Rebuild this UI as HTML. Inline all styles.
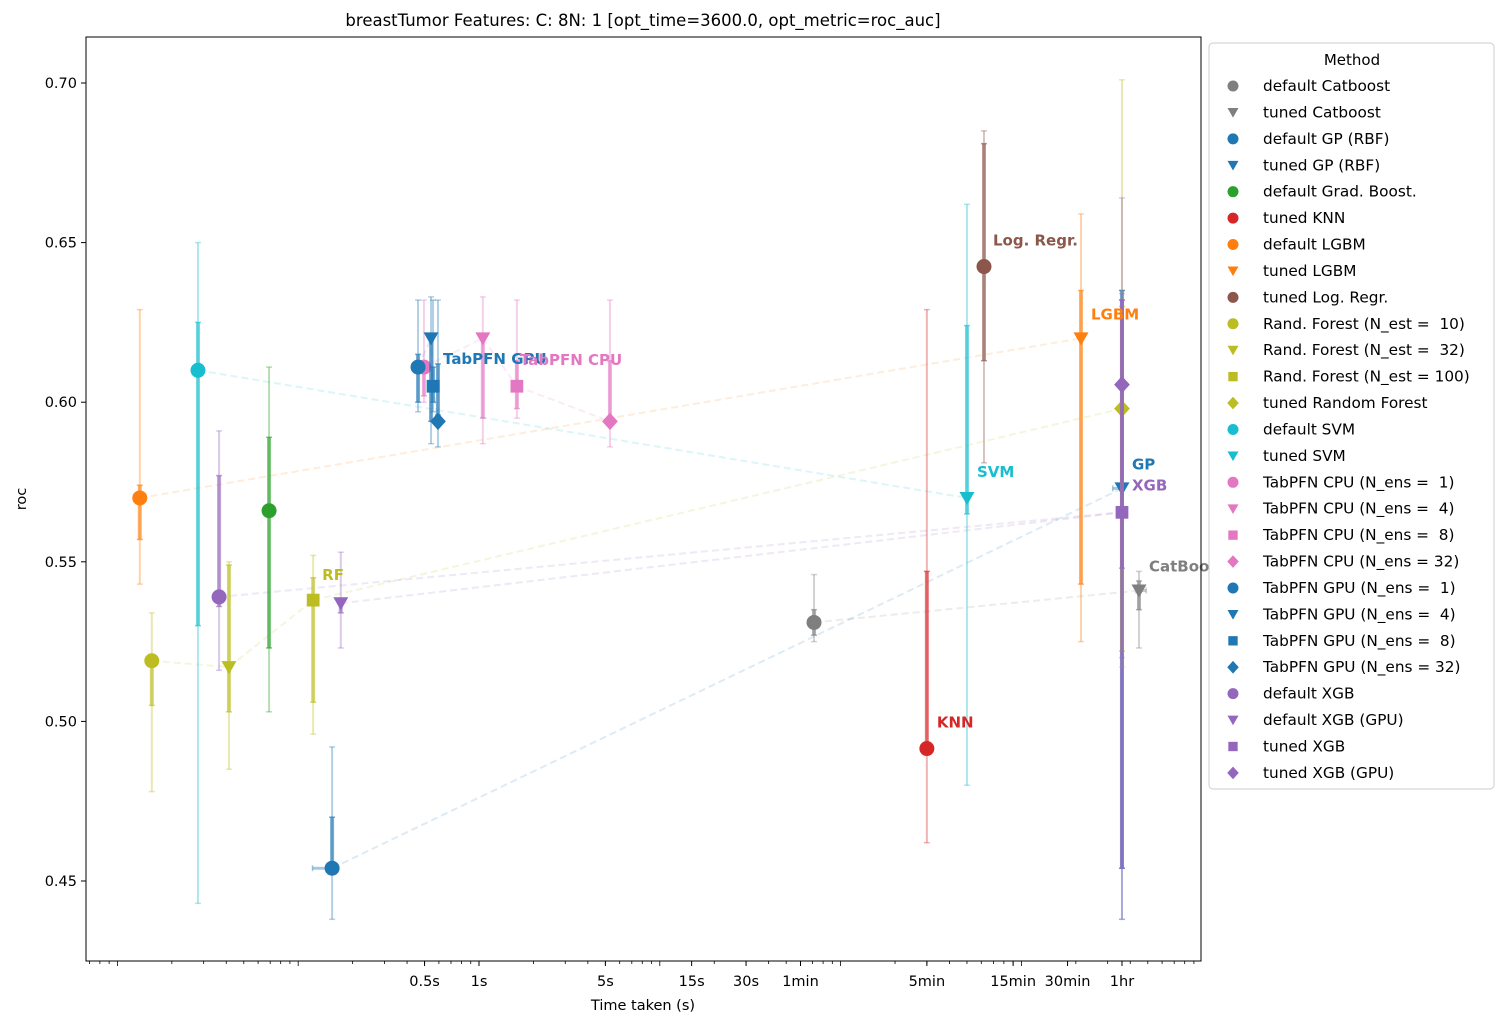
<!DOCTYPE html>
<html><head><meta charset="utf-8"><style>
body{margin:0;background:#fff;font-family:"Liberation Sans","DejaVu Sans",sans-serif}
svg text{font-family:"DejaVu Sans","Liberation Sans",sans-serif}
</style></head><body>
<svg id="c" width="1505" height="1027" xmlns="http://www.w3.org/2000/svg"></svg>
<script>
const methods=["default Catboost","tuned Catboost","default GP (RBF)","tuned GP (RBF)","default Grad. Boost.","tuned KNN","default LGBM","tuned LGBM","tuned Log. Regr.","Rand. Forest (N_est =  10)","Rand. Forest (N_est =  32)","Rand. Forest (N_est = 100)","tuned Random Forest","default SVM","tuned SVM","TabPFN CPU (N_ens =  1)","TabPFN CPU (N_ens =  4)","TabPFN CPU (N_ens =  8)","TabPFN CPU (N_ens = 32)","TabPFN GPU (N_ens =  1)","TabPFN GPU (N_ens =  4)","TabPFN GPU (N_ens =  8)","TabPFN GPU (N_ens = 32)","default XGB","default XGB (GPU)","tuned XGB","tuned XGB (GPU)"];
const times=[71.3,4470,0.154,3600,0.069,300,0.0133,2136,621,0.0155,0.0414,0.121,3600,0.0279,500,0.496,1.05,1.62,5.3,0.46,0.543,0.557,0.593,0.0365,0.172,3600,3600];
const timeLo=[71.3,4300,0.12,3200,0.069,300,0.0133,2136,621,0.0155,0.0414,0.121,3600,0.0279,500,0.496,1.05,1.62,5.3,0.46,0.543,0.557,0.593,0.0365,0.172,3600,3600];
const timeHi=[71.3,4900,0.154,3700,0.069,300,0.0133,2136,621,0.0155,0.0414,0.121,3600,0.0279,500,0.496,1.05,1.62,5.3,0.46,0.543,0.557,0.593,0.0365,0.172,3600,3600];
const means=[0.531,0.541,0.454,0.573,0.566,0.4915,0.570,0.620,0.6425,0.519,0.517,0.538,0.598,0.610,0.570,0.611,0.620,0.605,0.594,0.611,0.620,0.605,0.594,0.539,0.537,0.5655,0.6055];
const outerLo=[0.525,0.523,0.438,0.438,0.503,0.462,0.543,0.525,0.581,0.478,0.485,0.496,0.517,0.443,0.480,0.600,0.587,0.595,0.586,0.597,0.587,0.597,0.586,0.516,0.523,0.438,0.520];
const outerHi=[0.546,0.547,0.492,0.635,0.611,0.629,0.629,0.659,0.685,0.534,0.550,0.552,0.701,0.650,0.662,0.632,0.633,0.632,0.632,0.632,0.633,0.632,0.632,0.591,0.553,0.634,0.664];
const innerLo=[0.527,0.535,0.454,0.454,0.523,0.491,0.557,0.543,0.613,0.505,0.503,0.506,0.522,0.530,0.565,0.602,0.595,0.598,0.594,0.600,0.594,0.600,0.596,0.536,0.534,0.454,0.548];
const innerHi=[0.535,0.544,0.470,0.635,0.589,0.547,0.574,0.635,0.681,0.519,0.549,0.545,0.630,0.625,0.624,0.612,0.620,0.613,0.613,0.615,0.620,0.611,0.612,0.577,0.537,0.632,0.632];
const colors=["#7f7f7f","#7f7f7f","#1f77b4","#1f77b4","#2ca02c","#d62728","#ff7f0e","#ff7f0e","#8c564b","#bcbd22","#bcbd22","#bcbd22","#bcbd22","#17becf","#17becf","#e377c2","#e377c2","#e377c2","#e377c2","#1f77b4","#1f77b4","#1f77b4","#1f77b4","#9467bd","#9467bd","#9467bd","#9467bd"];
const markers=["o","v","o","v","o","o","o","v","o","o","v","s","D","o","v","o","v","s","D","o","v","s","D","o","v","s","D"];
const links=[[0,1],[2,3],[6,7],[9,10],[10,11],[11,12],[13,14],[15,16],[16,17],[17,18],[19,20],[20,21],[21,22],[23,25],[24,25]];
const labels=[["Log. Regr.",8],["LGBM",7],["SVM",14],["GP",3],["XGB",25],["CatBoost",1],["KNN",5],["RF",11],["TabPFN GPU",19],["TabPFN CPU",17]];
const labelOff=[[9,-26],[10,-24],[10,-26],[10,-24],[10,-27],[10,-24],[10,-26],[9,-25],[25,-8],[3,-26]];
const yTicks=[0.45,0.5,0.55,0.6,0.65,0.7];
const xTickVals=[0.5,1,5,15,30,60,300,900,1800,3600];
const xTickLabels=["0.5s","1s","5s","15s","30s","1min","5min","15min","30min","1hr"];

const L=86,R=1201,T=37,B=961;
const X=t=>479+180.8*Math.log10(t);
const Y=v=>881-(v-0.45)*3192;
const svg=document.getElementById('c');
const NS="http://www.w3.org/2000/svg";
function mk(tag,at,parent){const e=document.createElementNS(NS,tag);for(const k in at)e.setAttribute(k,at[k]);(parent||svg).appendChild(e);return e;}
function marker(type,x,y,s,col,g){
  if(type==="o")return mk('circle',{cx:x,cy:y,r:s,fill:col},g);
  if(type==="v")return mk('polygon',{points:`${x-s},${y-s*0.8} ${x+s},${y-s*0.8} ${x},${y+s*0.95}`,fill:col},g);
  if(type==="s")return mk('rect',{x:x-s*0.85,y:y-s*0.85,width:s*1.7,height:s*1.7,fill:col},g);
  return mk('polygon',{points:`${x},${y-s*1.15} ${x+s*1.05},${y} ${x},${y+s*1.15} ${x-s*1.05},${y}`,fill:col},g);
}
const title=mk('text',{x:643,y:26,'text-anchor':'middle','font-size':16.5});
title.textContent="breastTumor Features: C: 8N: 1 [opt_time=3600.0, opt_metric=roc_auc]";

const lg=mk('g',{});

links.forEach(([a,b])=>{mk('line',{x1:X(times[a]),y1:Y(means[a]),x2:X(times[b]),y2:Y(means[b]),stroke:colors[b],'stroke-opacity':0.15,'stroke-width':2,'stroke-dasharray':'7,4'},lg);});
methods.forEach((m,i)=>{
  const g=mk('g',{});
  
  
  const x=X(times[i]),c=colors[i];
  mk('line',{x1:x,x2:x,y1:Y(outerLo[i]),y2:Y(outerHi[i]),stroke:c,'stroke-opacity':0.35,'stroke-width':2},g);
  [outerLo[i],outerHi[i]].forEach(v=>mk('line',{x1:x-3,x2:x+3,y1:Y(v),y2:Y(v),stroke:c,'stroke-opacity':0.35,'stroke-width':1.5},g));
  mk('line',{x1:x,x2:x,y1:Y(innerLo[i]),y2:Y(innerHi[i]),stroke:c,'stroke-opacity':0.6,'stroke-width':4},g);
  [innerLo[i],innerHi[i]].forEach(v=>mk('line',{x1:x-3,x2:x+3,y1:Y(v),y2:Y(v),stroke:c,'stroke-opacity':0.6,'stroke-width':1.5},g));
  if(timeLo[i]!==timeHi[i]){const y=Y(means[i]);mk('line',{x1:X(timeLo[i]),x2:X(timeHi[i]),y1:y,y2:y,stroke:c,'stroke-opacity':0.4,'stroke-width':3},g);
    [timeLo[i],timeHi[i]].forEach(t=>mk('line',{x1:X(t),x2:X(t),y1:y-3,y2:y+3,stroke:c,'stroke-opacity':0.4,'stroke-width':1.5},g));}
  marker(markers[i],x,Y(means[i]),7.5,c,g);
});
labels.forEach(([txt,i],k)=>{
  const t=mk('text',{x:X(times[i])+labelOff[k][0],y:Y(means[i])+labelOff[k][1]+5,'font-size':15,'font-weight':'bold',fill:colors[i]});
  t.textContent=txt;
  
  
});
const fr=mk('rect',{x:L,y:T,width:R-L,height:B-T,fill:'none',stroke:'#000','stroke-width':1});

yTicks.forEach(v=>{const y=Y(v);mk('line',{x1:L-5,x2:L,y1:y,y2:y,stroke:'#000'});
  const t=mk('text',{x:L-9,y:y+5,'text-anchor':'end','font-size':14.5});t.textContent=v.toFixed(2);
  });
for(let d=-3;d<=4;d++)for(let k=1;k<10;k++){const t=k*Math.pow(10,d);const x=X(t);if(x<L||x>R)continue;
  mk('line',{x1:x,x2:x,y1:B,y2:B+(k===1?5:3),stroke:'#000','stroke-width':0.8});}
xTickVals.forEach((v,i)=>{const x=X(v);mk('line',{x1:x,x2:x,y1:B,y2:B+5,stroke:'#000'});
  const t=mk('text',{x:x,y:B+25,'text-anchor':'middle','font-size':14.5});t.textContent=xTickLabels[i];
  });
const xl=mk('text',{x:643,y:1010,'text-anchor':'middle','font-size':14.5});xl.textContent="Time taken (s)";

const yl=mk('text',{x:26,y:499,'text-anchor':'middle','font-size':14.5,transform:'rotate(-90 26 499)'});yl.textContent="roc";

const lgd=mk('g',{});

mk('rect',{x:1209,y:43,width:285,height:746,rx:4,fill:'#fff',stroke:'#ccc'},lgd);
const lt=mk('text',{x:1352,y:65,'text-anchor':'middle','font-size':15},lgd);lt.textContent="Method";
methods.forEach((m,i)=>{const y=86+i*26.42;
  const e=mk('g',{},lgd);
  
  marker(markers[i],1233,y,5.5,colors[i],e);
  const t=mk('text',{x:1263,y:y+5,'font-size':15.3},e);t.textContent=m;t.setAttribute('xml:space','preserve');t.style.whiteSpace='pre';});
</script>
</body></html>
